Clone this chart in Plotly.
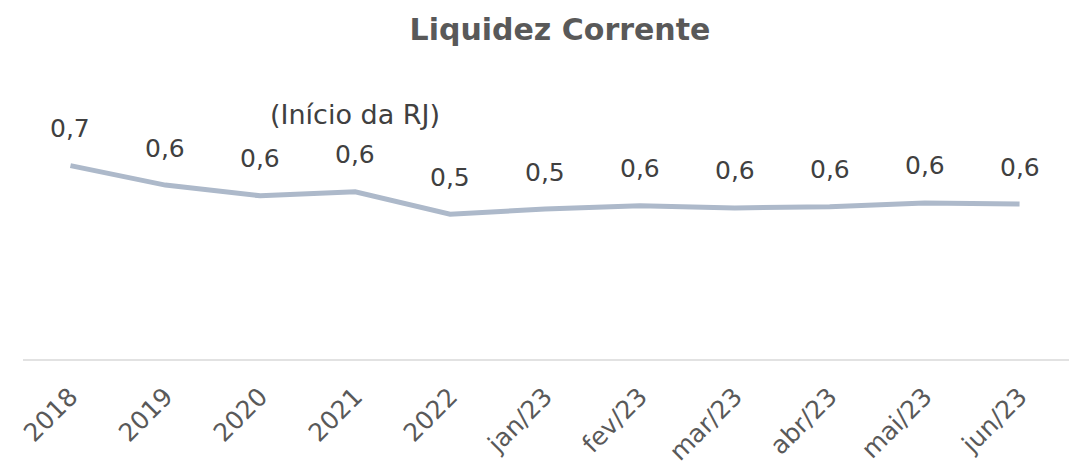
import plotly.graph_objects as go

categories = ["2018", "2019", "2020", "2021", "2022", "jan/23", "fev/23", "mar/23", "abr/23", "mai/23", "jun/23"]
values = [0.707, 0.636, 0.597, 0.612, 0.530, 0.549, 0.561, 0.553, 0.557, 0.571, 0.567]
labels = ["0,7", "0,6", "0,6", "0,6", "0,5", "0,5", "0,6", "0,6", "0,6", "0,6", "0,6"]
note_category = "2021"
note_text = "(Início da RJ)"
title_text = "Liquidez Corrente"

FONT = "DejaVu Sans"

fig = go.Figure()
fig.add_trace(go.Scatter(
    x=categories, y=values, mode="lines",
    line=dict(color="#adb9ca", width=5),
    hoverinfo="skip",
))

for i, (v, t) in enumerate(zip(values, labels)):
    fig.add_annotation(x=i, y=v, text=t, showarrow=False, yshift=37,
                       font=dict(family=FONT, size=25, color="#404040"))

ni = categories.index(note_category)
fig.add_annotation(x=ni, y=values[ni], text=note_text, showarrow=False, yshift=77,
                   font=dict(family=FONT, size=27, color="#404040"))

# baseline (category axis line) running to the right edge
fig.add_shape(type="line", xref="paper", yref="paper", x0=0, x1=1.02, y0=0, y1=0,
              line=dict(color="#d9d9d9", width=1.5))

fig.update_layout(
    width=1077, height=474,
    margin=dict(l=15, r=18, t=132, b=122),
    paper_bgcolor="white", plot_bgcolor="white",
    showlegend=False,
    title=dict(text="<b>" + title_text + "</b>", x=0.5125, xanchor="center", y=0.954, yanchor="middle",
               font=dict(family=FONT, size=30, color="#595959")),
    xaxis=dict(type="category", range=[-0.5, len(categories) - 0.5],
               showline=False, showgrid=False, zeroline=False,
               ticks="", tickangle=-45, automargin=False,
               ticklabelstandoff=16,
               tickfont=dict(family=FONT, size=25, color="#595959")),
    yaxis=dict(range=[0, 0.8], visible=False, showgrid=False, zeroline=False, automargin=False),
)

fig.write_html("out.html")
